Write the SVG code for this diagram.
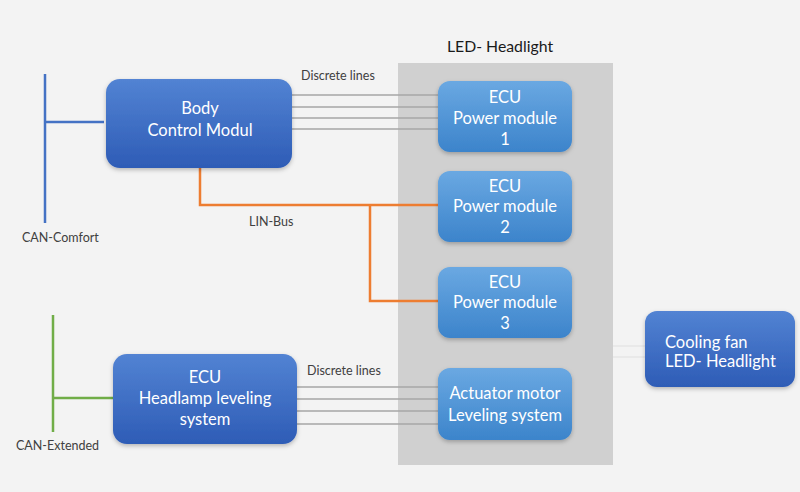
<svg xmlns="http://www.w3.org/2000/svg" width="800" height="492" viewBox="0 0 800 492">
<defs>
<linearGradient id="gDark" x1="0" y1="0" x2="0" y2="1">
<stop offset="0" stop-color="#5283d3"/><stop offset="1" stop-color="#2e5cb6"/>
</linearGradient>
<linearGradient id="gLight" x1="0" y1="0" x2="0" y2="1">
<stop offset="0" stop-color="#6aa8e2"/><stop offset="1" stop-color="#3c84cb"/>
</linearGradient>
<filter id="sh" x="-10%" y="-10%" width="120%" height="130%">
<feDropShadow dx="0" dy="2" stdDeviation="2" flood-color="#000" flood-opacity="0.25"/>
</filter>
</defs>
<style>
text{font-family:Lato,"Open Sans","Liberation Sans",sans-serif}
.t{fill:#fff;font-size:16.5px;text-anchor:middle}
.tl{fill:#fff;font-size:16.5px}
.lbl{fill:#404040;font-size:12.5px}
.dark{fill:url(#gDark);filter:url(#sh)}
.light{fill:url(#gLight);filter:url(#sh)}
.disc{stroke:#a6a6a6;stroke-width:1.3;fill:none}
.lin{stroke:#ed7d31;stroke-width:2.5;fill:none}
</style>
<rect width="800" height="492" fill="#f3f3f3"/>
<g id="panel">
<rect x="398" y="63" width="215" height="402" fill="#d0d0d0"/>
<text x="500" y="52" font-size="15.8" fill="#1a1a1a" text-anchor="middle">LED- Headlight</text>
</g>
<g id="connectors">
<path d="M45 74V223M45 122H104" stroke="#4472c4" stroke-width="2.5" fill="none"/>
<path d="M53 315V432M53 398H113" stroke="#70ad47" stroke-width="2.5" fill="none"/>
<path class="disc" d="M292 95H438M292 107H438M292 118H438M292 129H438"/>
<path class="disc" d="M297 387H438M297 399H438M297 411H438M297 424H438"/>
<path class="lin" d="M200 168V205H438M370 205V301H438"/>
<path d="M613 346H645M613 357H645" stroke="#e6e6e6" stroke-width="1.3" fill="none"/>
<text class="lbl" x="301" y="80">Discrete lines</text>
<text class="lbl" x="307" y="375">Discrete lines</text>
<text class="lbl" x="249" y="226">LIN-Bus</text>
<text class="lbl" x="22" y="242">CAN-Comfort</text>
<text class="lbl" x="16" y="450">CAN-Extended</text>
</g>
<g id="bcm">
<rect class="dark" x="106" y="79" width="186" height="89" rx="14"/>
<text class="t" x="200" y="114">Body</text>
<text class="t" x="200" y="136">Control Modul</text>
</g>
<g id="pm1">
<rect class="light" x="438" y="81" width="134" height="71" rx="12"/>
<text class="t" x="505" y="103">ECU</text>
<text class="t" x="505" y="124">Power module</text>
<text class="t" x="505" y="145">1</text>
</g>
<g id="pm2">
<rect class="light" x="438" y="171" width="134" height="71" rx="12"/>
<text class="t" x="505" y="192">ECU</text>
<text class="t" x="505" y="212">Power module</text>
<text class="t" x="505" y="233">2</text>
</g>
<g id="pm3">
<rect class="light" x="438" y="267" width="134" height="71" rx="12"/>
<text class="t" x="505" y="288">ECU</text>
<text class="t" x="505" y="308">Power module</text>
<text class="t" x="505" y="329">3</text>
</g>
<g id="actuator">
<rect class="light" x="438" y="368" width="134" height="72" rx="12"/>
<text class="t" x="505" y="399">Actuator motor</text>
<text class="t" x="505" y="421">Leveling system</text>
</g>
<g id="hls">
<rect class="dark" x="113" y="354" width="184" height="90" rx="14"/>
<text class="t" x="205" y="383">ECU</text>
<text class="t" x="205" y="404">Headlamp leveling</text>
<text class="t" x="205" y="425">system</text>
</g>
<g id="fan">
<rect class="dark" x="645" y="311" width="150" height="76" rx="12"/>
<text class="tl" x="665" y="348">Cooling fan</text>
<text class="tl" x="665" y="367">LED- Headlight</text>
</g>
</svg>
